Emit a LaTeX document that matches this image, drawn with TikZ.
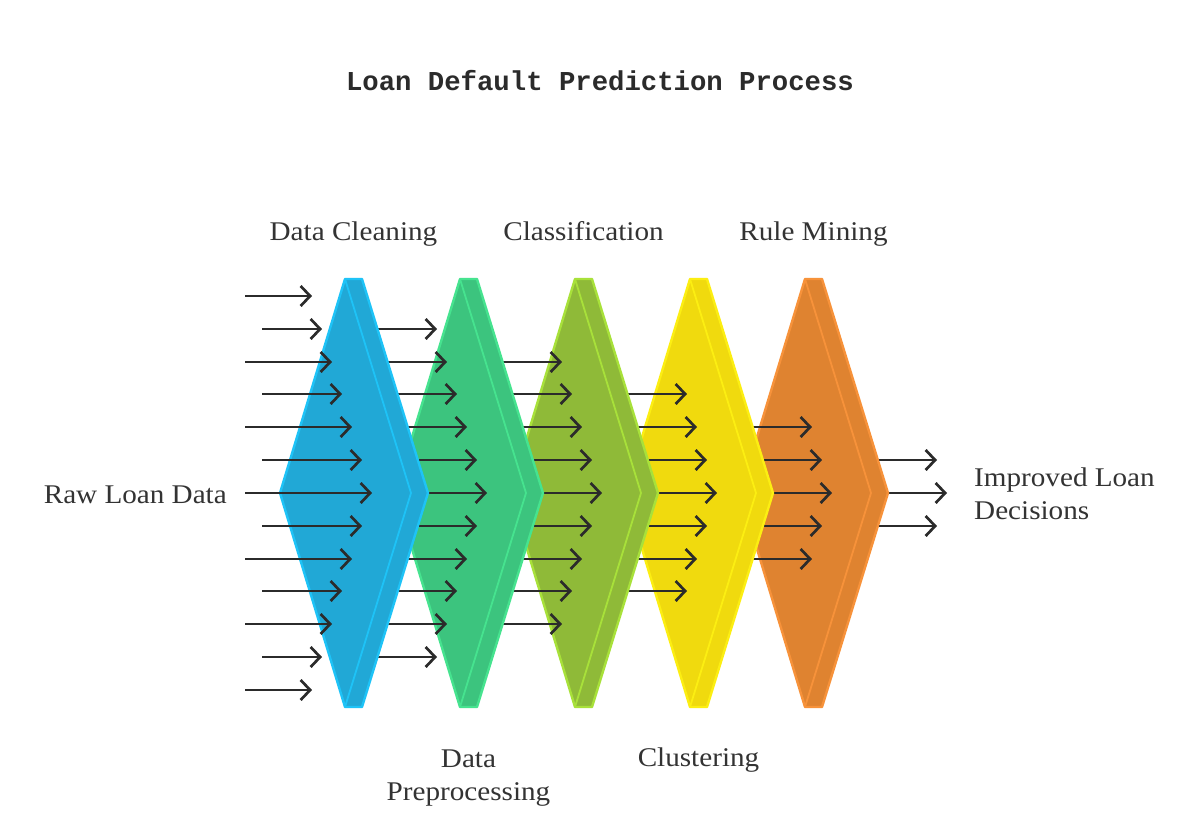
\documentclass[tikz,border=0pt]{standalone}
\usepackage{fontspec}
\setmainfont[FakeStretch=1.08]{Liberation Serif}
\newfontfamily\titlefont{Liberation Mono}
\usetikzlibrary{arrows.meta}
\definecolor{ink}{HTML}{333333}
\definecolor{arrowc}{HTML}{2B2B2B}
\definecolor{blueF}{HTML}{21A8D6}\definecolor{blueB}{HTML}{1EC3F7}
\definecolor{greenF}{HTML}{3CC47E}\definecolor{greenB}{HTML}{46E38F}
\definecolor{oliveF}{HTML}{8FBA38}\definecolor{oliveB}{HTML}{A8E13A}
\definecolor{yellowF}{HTML}{F0DA0E}\definecolor{yellowB}{HTML}{FCEE12}
\definecolor{orangeF}{HTML}{DF8330}\definecolor{orangeB}{HTML}{F7923A}
\newcommand\chevshape[4]{% #1 left x, #2 fill, #3 border, #4 name
  \path[fill=#2, draw=#3, line width=2.4pt, line join=round]
    ({#1},279) -- ({#1+17},279) -- ({#1+83},493) -- ({#1+17},707)
    -- ({#1},707) -- ({#1-65},493) -- cycle;
  \draw[draw=#3, line width=1.8pt, line join=round]
    ({#1},279) -- ({#1+66},493) -- ({#1},707);
  \coordinate (#4) at ({#1+8.5},493);
}
\newcommand\arrowcol[1]{%
  \foreach \r in {0,...,12}{%
    \pgfmathtruncatemacro\dd{abs(\r-6)}%
    \pgfmathtruncatemacro\ok{(\dd<=6-#1) ? 1 : 0}%
    \ifnum\ok=1
      \pgfmathtruncatemacro\yy{round(296+32.83*\r)}%
      \pgfmathsetmacro\xe{312+10*(6-\dd)+115*#1}%
      \pgfmathsetmacro\xs{(#1==0) ? (245+17*mod(\r,2)) : (365+115*(#1-1))}%
      \coordinate (a#1s\r) at (\xs,\yy);
      \coordinate (a#1e\r) at (\xe,\yy);
      \draw[flow] (a#1s\r) -- (a#1e\r);
    \fi}}
\begin{document}
\begin{tikzpicture}[x=1pt,y=-1pt,
  flow/.style={draw=arrowc, line width=2.7pt, -{Straight Barb[length=9.5pt,width=20pt]}},
  lbl/.style={text=ink, inner sep=0pt, font=\fontsize{27}{33}\selectfont, align=center}]
\useasboundingbox (0,0) rectangle (1200,815);
\fill[white] (0,0) rectangle (1200,815);
\node[anchor=base, inner sep=0pt, text=arrowc, font=\titlefont\bfseries\fontsize{27.3}{30}\selectfont] (title) at (600,90) {Loan Default Prediction Process};
% back to front
\arrowcol{5}
\chevshape{805}{orangeF}{orangeB}{s4}
\arrowcol{4}
\chevshape{690}{yellowF}{yellowB}{s3}
\arrowcol{3}
\chevshape{575}{oliveF}{oliveB}{s2}
\arrowcol{2}
\chevshape{460}{greenF}{greenB}{s1}
\arrowcol{1}
\chevshape{345}{blueF}{blueB}{s0}
\arrowcol{0}
% labels
\node[lbl, anchor=base east] (raw) at (227,503) {Raw Loan Data};
\node[lbl, anchor=base] (clean) at (353.5,240) {Data Cleaning};
\node[lbl, anchor=base] (class) at (583.5,240) {Classification};
\node[lbl, anchor=base] (rule) at (813.5,240) {Rule Mining};
\node[lbl, anchor=base] (clus) at (698.5,766) {Clustering};
\node[lbl, anchor=north] (prep) at (468.5,750) {Data\\Preprocessing};
\node[lbl, anchor=north west, align=left] (impr) at (974,468) {Improved Loan\\Decisions};
\end{tikzpicture}
\end{document}
